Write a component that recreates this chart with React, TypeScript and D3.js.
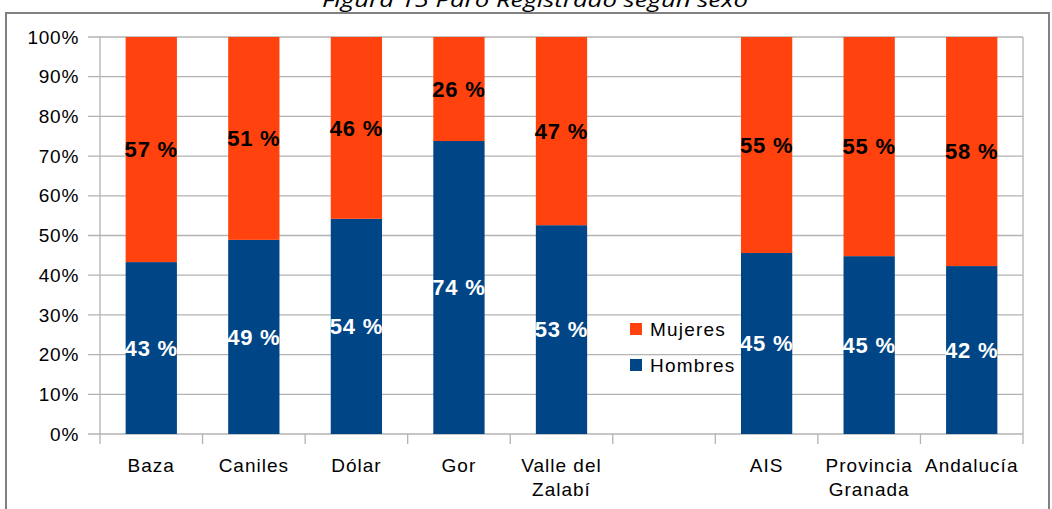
import React from "react";
import * as d3 from "d3";

const categories = ["Baza", "Caniles", "Dólar", "Gor", "Valle del\nZalabí", "", "AIS", "Provincia\nGranada", "Andalucía"];
const hombres: (number | null)[] = [43.3, 48.9, 54.2, 73.8, 52.6, null, 45.6, 44.8, 42.3];
const mujeres: (number | null)[] = [56.7, 51.1, 45.8, 26.2, 47.4, null, 54.4, 55.2, 57.7];
const hombresLabels = ["43 %", "49 %", "54 %", "74 %", "53 %", "", "45 %", "45 %", "42 %"];
const mujeresLabels = ["57 %", "51 %", "46 %", "26 %", "47 %", "", "55 %", "55 %", "58 %"];
const yTicks = [0, 10, 20, 30, 40, 50, 60, 70, 80, 90, 100];
const title = "Figura 15 Paro Registrado según sexo";

const W = 1052, H = 509;
const left = 100, right = 1023, top = 37, bottom = 434;
const ORANGE = "#ff420e", BLUE = "#004586", GRID = "#b3b3b3";

export default function App() {
  const x = d3.scaleBand<number>().domain(categories.map((_, i) => i)).range([left, right]).paddingInner(0).paddingOuter(0);
  const y = d3.scaleLinear().domain([0, 100]).range([bottom, top]);
  const bw = x.bandwidth() * 0.5;
  const font = "'Liberation Sans', Arial, sans-serif";
  return (
    <svg width={W} height={H} style={{ position: "absolute", left: 0, top: 0, background: "#fff" }}>
      <rect x={6} y={13} width={1043} height={510} fill="none" stroke="#808080" strokeWidth={2} />
      <text x={535} y={7} textAnchor="middle" fontFamily="'Open Sans', sans-serif" fontStyle="italic" fontSize={20} textLength={426} lengthAdjust="spacingAndGlyphs" fill="#000">{title}</text>
      {yTicks.map(t => (
        <g key={t}>
          <line x1={88} x2={right} y1={y(t)} y2={y(t)} stroke={GRID} strokeWidth={1.3} />
          <text x={79} y={y(t)} dy="0.35em" textAnchor="end" fontFamily={font} fontSize={19} letterSpacing={0.7} fill="#000">{t}%</text>
        </g>
      ))}
      <line x1={left} x2={left} y1={top} y2={bottom + 10} stroke={GRID} strokeWidth={1.3} />
      <line x1={right} x2={right} y1={top} y2={bottom + 10} stroke={GRID} strokeWidth={1.3} />
      {categories.map((_, i) => i > 0 ? (
        <line key={"t" + i} x1={x(i)!} x2={x(i)!} y1={bottom} y2={bottom + 10} stroke={GRID} strokeWidth={1.3} />
      ) : null)}
      {categories.map((c, i) => {
        const h = hombres[i], m = mujeres[i];
        if (h == null || m == null) return null;
        const cx = x(i)! + x.bandwidth() / 2;
        return (
          <g key={"b" + i}>
            <rect x={cx - bw / 2} y={y(h)} width={bw} height={y(0) - y(h)} fill={BLUE} />
            <rect x={cx - bw / 2} y={y(h + m)} width={bw} height={y(h) - y(h + m)} fill={ORANGE} />
            <text x={cx} y={(y(0) + y(h)) / 2} dy="0.35em" textAnchor="middle" fontFamily={font} fontWeight="bold" fontSize={22} letterSpacing={0.8} fill="#fff">{hombresLabels[i]}</text>
            <text x={cx} y={(y(h) + y(h + m)) / 2} dy="0.35em" textAnchor="middle" fontFamily={font} fontWeight="bold" fontSize={22} letterSpacing={0.8} fill="#000">{mujeresLabels[i]}</text>
          </g>
        );
      })}
      {categories.map((c, i) => {
        const cx = x(i)! + x.bandwidth() / 2;
        return c.split("\n").map((line, j) => (
          <text key={"l" + i + j} x={cx} y={465 + j * 24} dy="0.35em" textAnchor="middle" fontFamily={font} fontSize={19} letterSpacing={1} fill="#000">{line}</text>
        ));
      })}
      <rect x={630} y={323} width={12} height={12} fill={ORANGE} />
      <text x={650} y={329} dy="0.35em" fontFamily={font} fontSize={19} letterSpacing={1.2} fill="#000">Mujeres</text>
      <rect x={630} y={359} width={12} height={12} fill={BLUE} />
      <text x={650} y={365} dy="0.35em" fontFamily={font} fontSize={19} letterSpacing={1.2} fill="#000">Hombres</text>
    </svg>
  );
}
